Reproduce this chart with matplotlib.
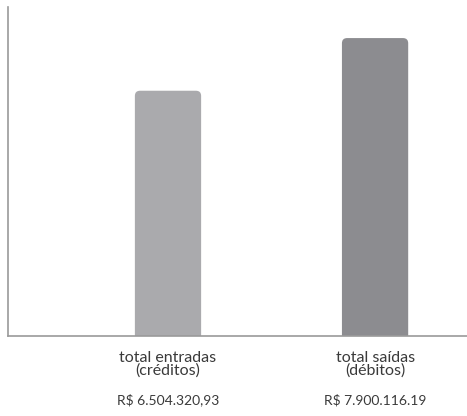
import matplotlib.pyplot as plt
import matplotlib.transforms as transforms
from matplotlib.patches import FancyBboxPatch

categorias = ["total entradas\n(créditos)", "total saídas\n(débitos)"]
valores = [6504320.93, 7900116.19]
rotulos_valor = ["R$ 6.504.320,93", "R$ 7.900.116.19"]
cores = ["#aaaaad", "#8c8c90"]

plt.rcParams['font.family'] = ['Lato', 'DejaVu Sans']

fig = plt.figure(figsize=(4.67, 4.16), dpi=100)
ax = fig.add_axes([0.017, 0.192, 0.983, 0.791])

x = [0, 1]
largura = 0.32
bars = ax.bar(x, valores, width=largura, color=cores)

ax.set_xlim(-0.773, 1.444)
ax.set_ylim(0, max(valores) * 1.104)

# cantos arredondados (~5px)
raio = 0.025
aspecto = 5.5e6
for b, c in zip(bars, cores):
    b.set_visible(False)
    base = -300000
    p = FancyBboxPatch((b.get_x(), base), b.get_width(), b.get_height() - base,
                       boxstyle="round,pad=0,rounding_size=%f" % raio,
                       mutation_aspect=aspecto,
                       facecolor=c, edgecolor="none", clip_on=True)
    ax.add_patch(p)

for s in ["top", "right"]:
    ax.spines[s].set_visible(False)
for s in ["left", "bottom"]:
    ax.spines[s].set_color("#9a9a9a")
    ax.spines[s].set_linewidth(1.2)
    ax.spines[s].set_zorder(3)
ax.set_xticks([])
ax.set_yticks([])

trans = transforms.blended_transform_factory(ax.transData, fig.transFigure)
for xi, cat, rot in zip(x, categorias, rotulos_valor):
    ax.text(xi, 0.124, cat, transform=trans, ha="center", va="center",
            fontsize=11.5, color="#3a3a3a", linespacing=0.92, clip_on=False)
    ax.text(xi, 0.038, rot, transform=trans, ha="center", va="center",
            fontsize=10, color="#3a3a3a", clip_on=False)

fig.savefig("out.png", dpi=100)
